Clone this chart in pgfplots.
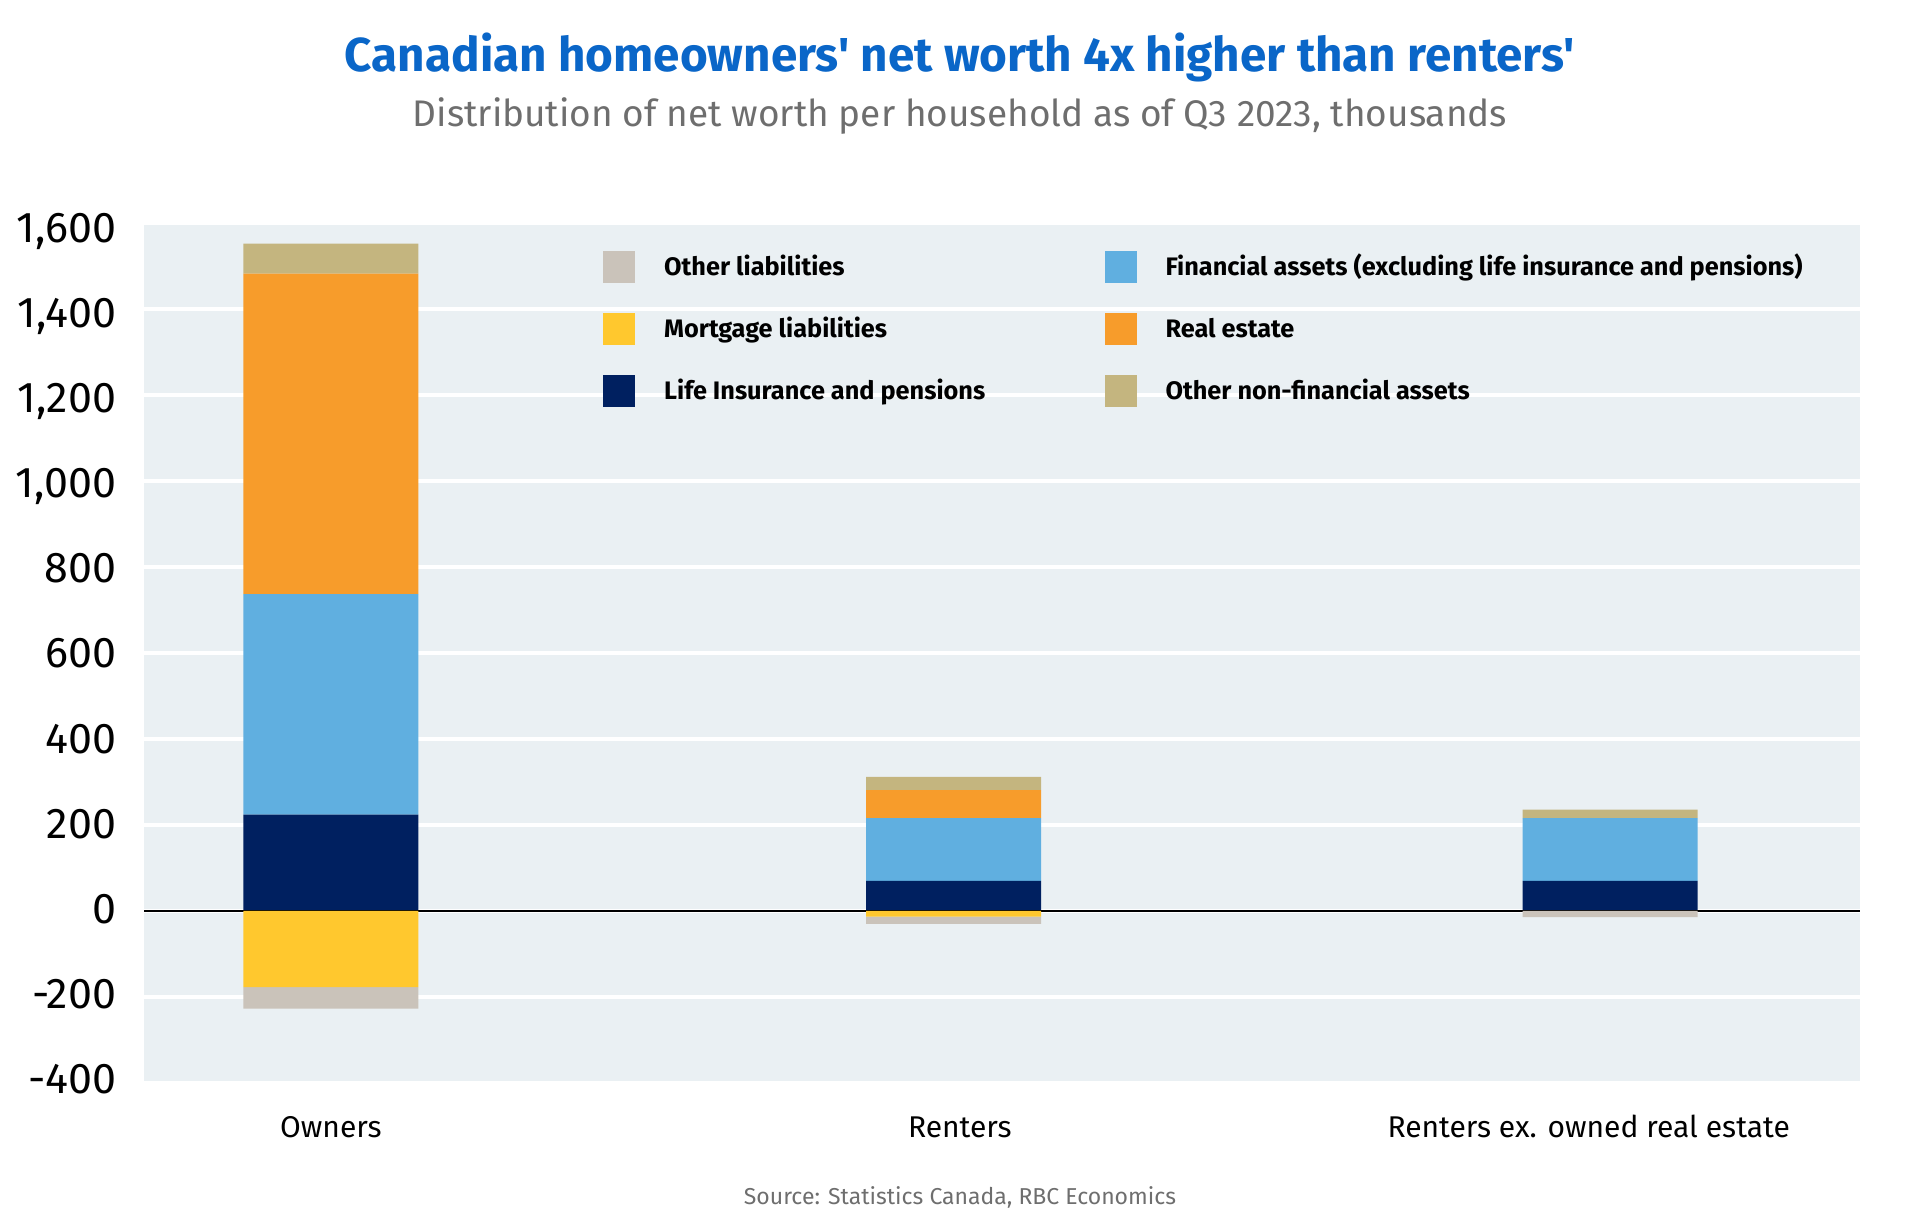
\documentclass[border=0pt]{standalone}
\usepackage{fontspec}
\setmainfont{Fira Sans}[Ligatures=TeXOff]
\usepackage{pgfplots}
\pgfplotsset{compat=1.18}
\definecolor{bgc}{HTML}{EAF0F3}
\definecolor{titleblue}{HTML}{0A66C8}
\definecolor{subgray}{HTML}{6E6E6E}
\definecolor{oliab}{HTML}{CAC3BA}
\definecolor{mort}{HTML}{FFC82E}
\definecolor{life}{HTML}{002060}
\definecolor{fin}{HTML}{60AFE0}
\definecolor{realest}{HTML}{F79C2B}
\definecolor{onfa}{HTML}{C4B57F}
\newcommand{\lw}[1]{\makebox[205.7bp][l]{#1}}
\newcommand{\rb}[2]{\raisebox{#1bp}{#2}}
\begin{document}
\begin{tikzpicture}
\path[use as bounding box] (-72bp,-69bp) rectangle (888bp,541.5bp);
\begin{axis}[
  at={(0,0)}, anchor=south west,
  width=858bp, height=430bp, scale only axis,
  xmin=-0.298, xmax=2.4386, ymin=-400, ymax=1600,
  axis background/.style={fill=bgc},
  axis line style={draw=none},
  major tick length=0pt,
  ytick={-400,-200,...,1600},
  yticklabels={\rb{2.25}{-400},\rb{1.8}{-200},\rb{1.35}{0},\rb{0.9}{200},\rb{0.45}{400},600,\rb{-0.45}{800},\rb{-0.9}{1,000},\rb{-1.35}{1,200},\rb{-1.8}{1,400},\rb{-2.25}{1,600}},
  ymajorgrids, major grid style={white, line width=1.8bp},
  xtick={0,1.003,2.006},
  xticklabels={Owners,Renters,Renters ex. owned real estate},
  xticklabel style={font=\fontsize{15bp}{18bp}\selectfont, anchor=base, inner sep=0pt, yshift=-27bp},
  yticklabel style={font=\fontsize{21.5bp}{25bp}\selectfont, anchor=base east, inner sep=0pt, xshift=-13.8bp, yshift=-7.5bp},
  ybar stacked, bar width=87.5bp,
  legend columns=2,
  legend style={at={(axis description cs:0.2676,0.9674)}, anchor=north west,
    draw=none, fill=none, inner sep=0pt, outer sep=0pt,
    column sep=14.5bp, row sep=15bp,
    font=\bfseries\fontsize{12.65bp}{15bp}\selectfont,
    nodes={inner sep=0pt, anchor=base west, text height=8.5bp, text depth=2.5bp}},
  legend image code/.code={\fill[#1] (0bp,-3.6bp) rectangle (16bp,12.4bp);},
]
\addlegendimage{fill=oliab, draw=none}
\addlegendentry{\lw{Other liabilities}}
\addlegendimage{fill=fin, draw=none}
\addlegendentry{Financial assets (excluding life insurance and pensions)}
\addlegendimage{fill=mort, draw=none}
\addlegendentry{\lw{Mortgage liabilities}}
\addlegendimage{fill=realest, draw=none}
\addlegendentry{Real estate}
\addlegendimage{fill=life, draw=none}
\addlegendentry{\lw{Life Insurance and pensions}}
\addlegendimage{fill=onfa, draw=none}
\addlegendentry{Other non-financial assets}
% positive components
\addplot[fill=life, draw=none] coordinates {(0,224) (0.993,70) (2.04,70)};
\addplot[fill=fin, draw=none] coordinates {(0,513) (0.993,146) (2.04,146)};
\addplot[fill=realest, draw=none] coordinates {(0,745) (0.993,65) (2.04,0)};
\addplot[fill=onfa, draw=none] coordinates {(0,70) (0.993,31) (2.04,20)};
\end{axis}
\begin{axis}[
  at={(0,0)}, anchor=south west,
  width=858bp, height=430bp, scale only axis,
  xmin=-0.298, xmax=2.4386, ymin=-400, ymax=1600,
  hide axis,
  ybar stacked, bar width=87.5bp,
]
% negative components
\addplot[fill=mort, draw=none] coordinates {(0,-177) (0.993,-13) (2.04,0)};
\addplot[fill=oliab, draw=none] coordinates {(0,-50) (0.993,-17) (2.04,-14)};
\draw[black, line width=0.9bp] (axis cs:-0.298,0) -- (axis cs:2.4386,0);
\end{axis}
\node[font=\bfseries\fontsize{23.8bp}{28bp}\selectfont, text=titleblue, anchor=base, inner sep=0pt] at (408bp,505.5bp) {Canadian homeowners' net worth 4x higher than renters'};
\node[font=\fontsize{18.5bp}{22bp}\selectfont, text=subgray, anchor=base, inner sep=0pt] at (408bp,478bp) {Distribution of net worth per household as of Q3 2023, thousands};
\node[font=\fontsize{11.5bp}{14bp}\selectfont, text=subgray, anchor=base, inner sep=0pt] at (408bp,-60.5bp) {Source: Statistics Canada, RBC Economics};
\end{tikzpicture}
\end{document}
